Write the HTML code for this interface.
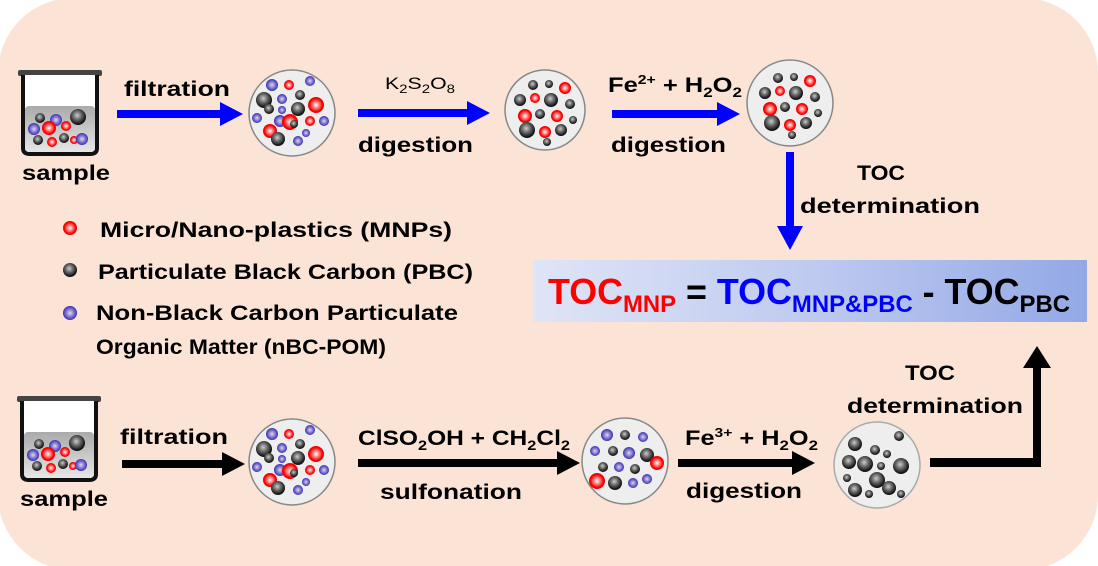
<!DOCTYPE html>
<html><head><meta charset="utf-8"><style>
body{margin:0;background:#fff}
svg{display:block;font-family:"Liberation Sans",sans-serif;font-weight:bold}
</style></head><body>
<svg width="1098" height="566" viewBox="0 0 1098 566">
<defs>
<radialGradient id="r" cx="50%" cy="50%" r="50%"><stop offset="0" stop-color="#fff"/><stop offset="0.45" stop-color="#ff7070"/><stop offset="0.8" stop-color="#f00"/><stop offset="1" stop-color="#e00"/></radialGradient>
<radialGradient id="k" cx="45%" cy="40%" r="55%"><stop offset="0" stop-color="#ccc"/><stop offset="0.5" stop-color="#666"/><stop offset="1" stop-color="#111"/></radialGradient>
<radialGradient id="b" cx="50%" cy="50%" r="50%"><stop offset="0" stop-color="#ddd"/><stop offset="0.5" stop-color="#8a7fd6"/><stop offset="1" stop-color="#3a2fb0"/></radialGradient>
<linearGradient id="liq" x1="0" y1="0" x2="0" y2="1"><stop offset="0" stop-color="#aaa"/><stop offset="1" stop-color="#e6e6e6"/></linearGradient>
<linearGradient id="fb" x1="0" y1="0" x2="1" y2="0"><stop offset="0" stop-color="#dfe5f6"/><stop offset="0.5" stop-color="#bfcaf0"/><stop offset="1" stop-color="#93a8e6"/></linearGradient>
<g id="mix">
<circle cx="-20" cy="-28" r="6" fill="url(#b)"/><circle cx="-3" cy="-28" r="5" fill="url(#r)"/><circle cx="18" cy="-32" r="5" fill="url(#b)"/>
<circle cx="-28" cy="-13" r="8" fill="url(#k)"/><circle cx="-10" cy="-14" r="5" fill="url(#b)"/><circle cx="8" cy="-18" r="5" fill="url(#k)"/><circle cx="24" cy="-8" r="8" fill="url(#r)"/>
<circle cx="-23" cy="-4" r="5" fill="url(#k)"/><circle cx="-10" cy="-3" r="4" fill="url(#b)"/><circle cx="6" cy="-4" r="7" fill="url(#k)"/>
<circle cx="-35" cy="5" r="5" fill="url(#b)"/><circle cx="-12" cy="8" r="6" fill="url(#b)"/><circle cx="-2" cy="9" r="8" fill="url(#r)"/><circle cx="2" cy="11" r="4" fill="url(#k)"/><circle cx="18" cy="8" r="5" fill="url(#r)"/><circle cx="32" cy="8" r="5" fill="url(#b)"/>
<circle cx="-22" cy="18" r="7" fill="url(#r)"/><circle cx="-14" cy="26" r="7" fill="url(#k)"/><circle cx="14" cy="20" r="4" fill="url(#b)"/><circle cx="6" cy="28" r="5" fill="url(#b)"/>
</g>
<g id="mix2">
<circle cx="-12" cy="-25" r="5" fill="url(#k)"/><circle cx="4" cy="-26" r="4" fill="url(#k)"/><circle cx="20" cy="-22" r="6" fill="url(#r)"/>
<circle cx="-25" cy="-10" r="6" fill="url(#k)"/><circle cx="-10" cy="-12" r="5" fill="url(#r)"/><circle cx="6" cy="-10" r="7" fill="url(#k)"/><circle cx="25" cy="-6" r="5" fill="url(#k)"/>
<circle cx="-20" cy="6" r="7" fill="url(#r)"/><circle cx="-5" cy="4" r="5" fill="url(#k)"/><circle cx="12" cy="6" r="6" fill="url(#r)"/><circle cx="28" cy="10" r="4" fill="url(#k)"/>
<circle cx="-18" cy="20" r="8" fill="url(#k)"/><circle cx="0" cy="22" r="6" fill="url(#r)"/><circle cx="16" cy="20" r="6" fill="url(#k)"/><circle cx="2" cy="32" r="4" fill="url(#k)"/>
</g>
<g id="mix3">
<circle cx="-18" cy="-26" r="6" fill="url(#b)"/><circle cx="0" cy="-26" r="5" fill="url(#k)"/><circle cx="18" cy="-24" r="5" fill="url(#b)"/>
<circle cx="-30" cy="-10" r="5" fill="url(#b)"/><circle cx="-12" cy="-10" r="5" fill="url(#k)"/><circle cx="4" cy="-8" r="6" fill="url(#b)"/><circle cx="22" cy="-6" r="7" fill="url(#k)"/><circle cx="32" cy="2" r="7" fill="url(#r)"/>
<circle cx="-22" cy="6" r="5" fill="url(#k)"/><circle cx="-6" cy="6" r="5" fill="url(#b)"/><circle cx="10" cy="8" r="5" fill="url(#k)"/>
<circle cx="-28" cy="20" r="8" fill="url(#r)"/><circle cx="-10" cy="22" r="7" fill="url(#k)"/><circle cx="8" cy="22" r="5" fill="url(#b)"/><circle cx="22" cy="18" r="5" fill="url(#b)"/>
</g>
<g id="blk">
<circle cx="-22" cy="-18" r="7" fill="url(#k)"/><circle cx="-2" cy="-12" r="5" fill="url(#k)"/><circle cx="22" cy="-26" r="5" fill="url(#k)"/><circle cx="10" cy="-8" r="4" fill="url(#k)"/>
<circle cx="-28" cy="0" r="7" fill="url(#k)"/><circle cx="-12" cy="2" r="8" fill="url(#k)"/><circle cx="4" cy="4" r="4" fill="url(#k)"/><circle cx="24" cy="4" r="8" fill="url(#k)"/>
<circle cx="-30" cy="16" r="4" fill="url(#k)"/><circle cx="0" cy="18" r="8" fill="url(#k)"/><circle cx="12" cy="26" r="7" fill="url(#k)"/><circle cx="-22" cy="28" r="7" fill="url(#k)"/><circle cx="-8" cy="32" r="4" fill="url(#k)"/><circle cx="24" cy="32" r="4" fill="url(#k)"/>
</g>
<g id="beaker">
<rect x="-2" y="0" width="84" height="6" rx="2" fill="#444"/>
<path d="M3 5 V78 Q3 84 10 84 H70 Q77 84 77 78 V5" fill="#fff" stroke="#111" stroke-width="4"/>
<rect x="5" y="36" width="70" height="46" rx="4" fill="url(#liq)"/>
<circle cx="20" cy="48" r="5" fill="url(#k)"/><circle cx="36" cy="50" r="6" fill="url(#b)"/><circle cx="58" cy="47" r="8" fill="url(#k)"/>
<circle cx="14" cy="59" r="6" fill="url(#b)"/><circle cx="29" cy="58" r="7" fill="url(#r)"/><circle cx="46" cy="56" r="5" fill="url(#r)"/>
<circle cx="18" cy="70" r="5" fill="url(#k)"/><circle cx="32" cy="72" r="5" fill="url(#r)"/><circle cx="44" cy="68" r="5" fill="url(#k)"/><circle cx="54" cy="70" r="4" fill="url(#r)"/><circle cx="62" cy="69" r="6" fill="url(#b)"/>
</g>
</defs>
<rect x="-2" y="-2" width="1100" height="572" rx="75" fill="#fbe4d6"/>

<!-- top row -->
<use href="#beaker" x="20" y="70"/>
<text x="22" y="180" font-size="21" textLength="88" lengthAdjust="spacingAndGlyphs">sample</text>
<text x="124" y="96" font-size="21" textLength="106" lengthAdjust="spacingAndGlyphs">filtration</text>
<path d="M117 110 H220 V102 L243 114 L220 126 V118 H117Z" fill="#00f"/>
<circle cx="292" cy="113" r="43" fill="#eee" stroke="#888" stroke-width="1.5"/><use href="#mix" x="292" y="113"/>
<text x="385" y="89" font-size="17" font-weight="normal" textLength="70" lengthAdjust="spacingAndGlyphs">K<tspan font-size="12" dy="4">2</tspan><tspan dy="-4">S</tspan><tspan font-size="12" dy="4">2</tspan><tspan dy="-4">O</tspan><tspan font-size="12" dy="4">8</tspan></text>
<path d="M358 109 H467 V101 L490 113 L467 125 V117 H358Z" fill="#00f"/>
<text x="358" y="152" font-size="21" textLength="115" lengthAdjust="spacingAndGlyphs">digestion</text>
<circle cx="545" cy="110" r="40" fill="#eee" stroke="#888" stroke-width="1.5"/><use href="#mix2" x="545" y="110"/>
<text x="608" y="92" font-size="21" textLength="134" lengthAdjust="spacingAndGlyphs">Fe<tspan font-size="13" dy="-8">2+</tspan><tspan dy="8"> + H</tspan><tspan font-size="14" dy="5">2</tspan><tspan dy="-5">O</tspan><tspan font-size="14" dy="5">2</tspan></text>
<path d="M612 110 H717 V102 L740 114 L717 126 V118 H612Z" fill="#00f"/>
<text x="611" y="152" font-size="21" textLength="115" lengthAdjust="spacingAndGlyphs">digestion</text>
<circle cx="790" cy="103" r="43" fill="#eee" stroke="#888" stroke-width="1.5"/><use href="#mix2" x="790" y="103"/>
<path d="M786 152 H794 V226 H803 L790 250 L777 226 H786Z" fill="#00f"/>
<text x="857" y="180" font-size="21" textLength="48" lengthAdjust="spacingAndGlyphs">TOC</text>
<text x="800" y="213" font-size="21" textLength="180" lengthAdjust="spacingAndGlyphs">determination</text>

<!-- legend -->
<circle cx="70" cy="228" r="7" fill="url(#r)"/><text x="100" y="237" font-size="21" textLength="352" lengthAdjust="spacingAndGlyphs">Micro/Nano-plastics (MNPs)</text>
<circle cx="70" cy="270" r="7" fill="url(#k)"/><text x="98" y="279" font-size="21" textLength="375" lengthAdjust="spacingAndGlyphs">Particulate Black Carbon (PBC)</text>
<circle cx="70" cy="313" r="7" fill="url(#b)"/><text x="96" y="320" font-size="21" textLength="362" lengthAdjust="spacingAndGlyphs">Non-Black Carbon Particulate</text>
<text x="96" y="354" font-size="21" textLength="290" lengthAdjust="spacingAndGlyphs">Organic Matter (nBC-POM)</text>

<!-- formula -->
<rect x="533" y="260" width="554" height="62" fill="url(#fb)"/>
<text x="548" y="304" font-size="36" textLength="522" lengthAdjust="spacingAndGlyphs"><tspan fill="#f00">TOC<tspan font-size="24" dy="8">MNP</tspan></tspan><tspan fill="#000" dy="-8"> = </tspan><tspan fill="#00f">TOC<tspan font-size="24" dy="8">MNP&amp;PBC</tspan></tspan><tspan fill="#000" dy="-8"> - TOC<tspan font-size="24" dy="8">PBC</tspan></tspan></text>

<!-- bottom row -->
<use href="#beaker" x="19" y="396"/>
<text x="20" y="506" font-size="21" textLength="88" lengthAdjust="spacingAndGlyphs">sample</text>
<text x="120" y="444" font-size="21" textLength="108" lengthAdjust="spacingAndGlyphs">filtration</text>
<path d="M122 460 H222 V452 L245 464 L222 476 V468 H122Z" fill="#000"/>
<circle cx="292" cy="462" r="43" fill="#eee" stroke="#888" stroke-width="1.5"/><use href="#mix" x="292" y="462"/>
<text x="358" y="445" font-size="21" textLength="212" lengthAdjust="spacingAndGlyphs">ClSO<tspan font-size="14" dy="5">2</tspan><tspan dy="-5">OH + CH</tspan><tspan font-size="14" dy="5">2</tspan><tspan dy="-5">Cl</tspan><tspan font-size="14" dy="5">2</tspan></text>
<path d="M358 459 H557 V451 L580 463 L557 475 V467 H358Z" fill="#000"/>
<text x="380" y="499" font-size="21" textLength="142" lengthAdjust="spacingAndGlyphs">sulfonation</text>
<circle cx="625" cy="461" r="43" fill="#eee" stroke="#888" stroke-width="1.5"/><use href="#mix3" x="625" y="461"/>
<text x="685" y="445" font-size="21" textLength="133" lengthAdjust="spacingAndGlyphs">Fe<tspan font-size="13" dy="-8">3+</tspan><tspan dy="8"> + H</tspan><tspan font-size="14" dy="5">2</tspan><tspan dy="-5">O</tspan><tspan font-size="14" dy="5">2</tspan></text>
<path d="M678 459 H792 V451 L815 463 L792 475 V467 H678Z" fill="#000"/>
<text x="686" y="498" font-size="21" textLength="116" lengthAdjust="spacingAndGlyphs">digestion</text>
<circle cx="877" cy="465" r="43" fill="#eee" stroke="#aaa" stroke-width="1.5"/><use href="#blk" x="877" y="462"/>
<text x="905" y="380" font-size="21" textLength="50" lengthAdjust="spacingAndGlyphs">TOC</text>
<text x="847" y="413" font-size="21" textLength="176" lengthAdjust="spacingAndGlyphs">determination</text>
<path d="M930 458 H1033 V368 H1023 L1037 346 L1051 368 H1041 V467 H930Z" fill="#000"/>
</svg>
</body></html>
